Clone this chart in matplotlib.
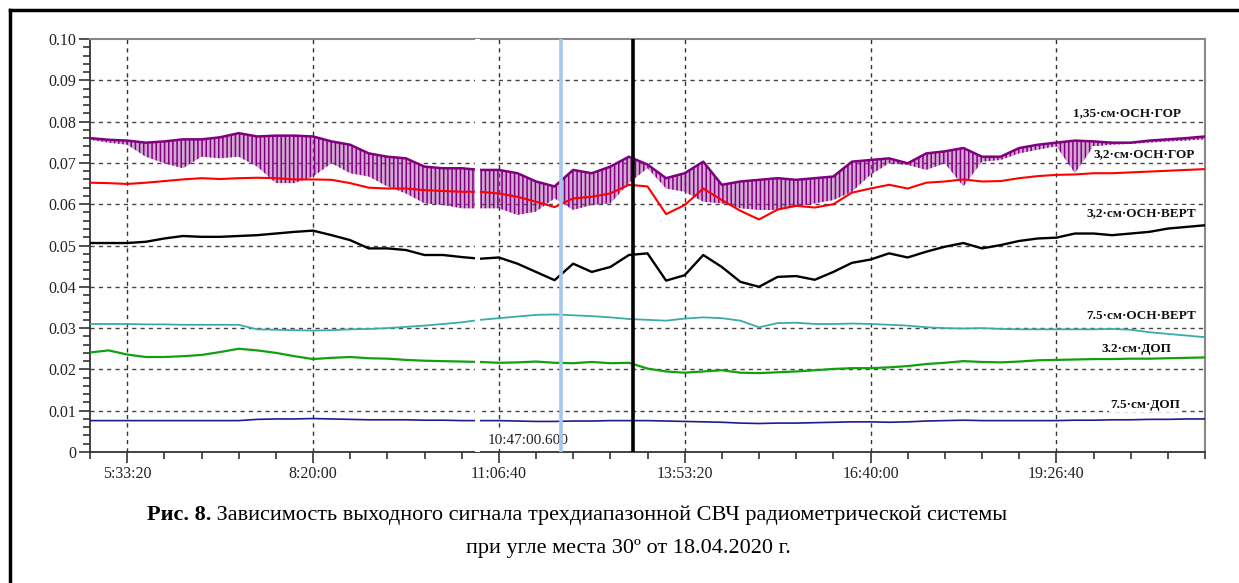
import matplotlib
matplotlib.use("Agg")
import matplotlib.pyplot as plt
import numpy as np
from matplotlib.ticker import FixedLocator, MultipleLocator, FuncFormatter
from matplotlib.lines import Line2D

# ---------------- data (values in units of 1e-3) ----------------
time_s = np.arange(18000, 78001, 1000)  # sample times, seconds of day (5:00:00 .. 21:40:00)

purple_hi = [76.0, 75.6, 75.4, 74.9, 75.2, 75.7, 75.7, 76.2, 77.2, 76.4,
             76.6, 76.6, 76.4, 75.2, 74.4, 72.3, 71.5, 71.1, 69.1, 68.7,
             68.7, 68.3, 68.3, 67.5, 65.5, 64.3, 68.3, 67.5, 69.1, 71.5,
             69.6, 66.3, 67.5, 70.3, 64.7, 65.5, 65.9, 66.3, 65.9, 66.3,
             66.7, 70.3, 70.7, 71.1, 69.9, 72.3, 72.8, 73.6, 71.5, 71.5,
             73.6, 74.4, 74.9, 75.4, 75.2, 74.9, 74.9, 75.4, 75.7, 76.0, 76.4]
purple_lo = [75.6, 74.9, 74.4, 71.5, 69.9, 68.7, 71.5, 71.1, 71.5, 69.1,
             65.1, 65.1, 66.7, 69.9, 67.5, 66.7, 64.3, 62.6, 60.2, 59.8,
             59.0, 59.0, 59.0, 57.4, 58.2, 61.4, 58.6, 59.8, 60.2, 65.1,
             68.7, 63.8, 63.0, 60.6, 60.2, 59.0, 58.6, 58.6, 59.4, 60.2,
             61.0, 63.0, 67.1, 69.9, 69.5, 68.3, 69.9, 64.3, 70.3, 70.7,
             72.3, 73.2, 74.0, 67.5, 74.0, 74.4, 74.6, 74.9, 75.2, 75.4, 75.7]
red = [65.2, 65.1, 64.9, 65.2, 65.6, 66.0, 66.3, 66.1, 66.3, 66.4,
       66.3, 66.0, 66.0, 65.9, 65.1, 64.0, 63.8, 63.8, 63.4, 63.2,
       63.0, 63.0, 62.6, 61.8, 60.6, 59.3, 61.4, 61.8, 62.6, 64.7,
       64.3, 57.6, 59.8, 63.8, 61.0, 58.4, 56.3, 58.7, 59.6, 59.2,
       60.0, 62.8, 63.8, 64.7, 63.8, 65.2, 65.5, 66.0, 65.5, 65.6,
       66.3, 66.8, 67.1, 67.2, 67.5, 67.5, 67.7, 67.9, 68.1, 68.3, 68.5]
black = [50.6, 50.6, 50.6, 50.9, 51.7, 52.3, 52.1, 52.1, 52.3, 52.5,
         52.9, 53.3, 53.6, 52.5, 51.3, 49.3, 49.3, 48.9, 47.7, 47.7,
         47.2, 46.8, 47.1, 45.6, 43.6, 41.6, 45.6, 43.6, 44.8, 47.7,
         48.1, 41.5, 42.8, 47.7, 44.8, 41.2, 40.0, 42.4, 42.6, 41.7,
         43.6, 45.8, 46.6, 48.1, 47.1, 48.5, 49.7, 50.6, 49.3, 50.1,
         51.1, 51.7, 51.9, 52.9, 52.9, 52.5, 52.9, 53.3, 54.1, 54.5, 54.9]
cyan = [31.0, 31.0, 31.0, 30.9, 30.9, 30.8, 30.8, 30.8, 30.8, 29.7,
        29.6, 29.5, 29.4, 29.5, 29.7, 29.8, 30.0, 30.3, 30.6, 31.0,
        31.4, 32.0, 32.4, 32.8, 33.2, 33.3, 33.1, 32.9, 32.6, 32.2,
        32.0, 31.8, 32.3, 32.6, 32.4, 31.8, 30.2, 31.2, 31.3, 31.0,
        31.0, 31.1, 31.0, 30.8, 30.6, 30.2, 30.0, 29.9, 30.0, 29.8,
        29.7, 29.7, 29.7, 29.7, 29.7, 29.8, 29.6, 29.0, 28.6, 28.2, 27.8]
green = [24.1, 24.6, 23.6, 23.0, 23.0, 23.2, 23.5, 24.2, 25.0, 24.6,
         24.0, 23.2, 22.5, 22.8, 23.0, 22.7, 22.6, 22.3, 22.1, 22.0,
         21.9, 21.8, 21.6, 21.7, 21.9, 21.6, 21.5, 21.8, 21.5, 21.6,
         20.2, 19.5, 19.2, 19.5, 19.8, 19.2, 19.1, 19.3, 19.5, 19.8,
         20.1, 20.3, 20.3, 20.5, 20.8, 21.3, 21.6, 22.0, 21.8, 21.7,
         21.9, 22.2, 22.3, 22.4, 22.5, 22.5, 22.6, 22.6, 22.7, 22.8, 22.9]
blue = [7.6, 7.6, 7.6, 7.6, 7.6, 7.6, 7.6, 7.6, 7.6, 7.9,
        8.0, 8.0, 8.1, 8.0, 7.9, 7.8, 7.8, 7.8, 7.7, 7.7,
        7.6, 7.6, 7.6, 7.5, 7.4, 7.4, 7.5, 7.5, 7.6, 7.6,
        7.6, 7.5, 7.4, 7.3, 7.2, 7.0, 6.9, 7.0, 7.0, 7.1,
        7.2, 7.3, 7.3, 7.2, 7.3, 7.5, 7.6, 7.7, 7.6, 7.6,
        7.6, 7.6, 7.6, 7.7, 7.7, 7.8, 7.8, 7.9, 7.9, 8.0, 8.0]

series_labels = ["1,35·см·ОСН·ГОР", "3,2·см·ОСН·ГОР", "3,2·см·ОСН·ВЕРТ",
                 "7.5·см·ОСН·ВЕРТ", "3.2·см·ДОП", "7.5·см·ДОП"]
x_ticks_s = [20000, 30000, 40000, 50000, 60000, 70000]
y_ticks = [0.0, 0.01, 0.02, 0.03, 0.04, 0.05, 0.06, 0.07, 0.08, 0.09, 0.10]
cursor_label = "10:47:00.600"
cursor_blue_s = 43345
cursor_black_s = 47220
caption_bold = "Рис. 8."
caption_1 = " Зависимость выходного сигнала трехдиапазонной СВЧ радиометрической системы"
caption_2 = "при угле места 30º от 18.04.2020 г."

# ---------------- figure ----------------
SERIF = ["Liberation Serif", "DejaVu Serif"]
plt.rcParams["font.family"] = SERIF
plt.rcParams["hatch.linewidth"] = 1.1

W, H = 1239, 583
fig = plt.figure(figsize=(W / 100, H / 100), dpi=100)
ax = fig.add_axes([90 / W, 1 - 452 / H, (1205 - 90) / W, (452 - 39) / H])

sc = 1e-3
ph = np.array(purple_hi) * sc
pl = np.array(purple_lo) * sc
c_purple = "#800080"
ax.fill_between(time_s, pl, ph, facecolor=(0.62, 0.25, 0.62, 0.45), edgecolor=c_purple,
                hatch="||||", lw=0, zorder=3)
ax.plot(time_s, ph, color=c_purple, lw=1.8, zorder=3)
ax.plot(time_s, np.array(red) * sc, color="#FF0000", lw=1.5, zorder=4)
ax.plot(time_s, np.array(black) * sc, color="black", lw=1.7, zorder=4)
ax.plot(time_s, np.array(cyan) * sc, color="#3AABA8", lw=1.3, zorder=4)
ax.plot(time_s, np.array(green) * sc, color="#10A010", lw=1.6, zorder=4)
ax.plot(time_s, np.array(blue) * sc, color="#1C1C8C", lw=1.2, zorder=4)

ax.set_xlim(18000, 78000)
ax.set_ylim(0, 0.10)

# grid
for y in y_ticks[1:-1]:
    ax.axhline(y, color="#444444", lw=1.0, ls=(0, (3, 3)), zorder=1)
for x in x_ticks_s:
    ax.axvline(x, color="#333333", lw=1.0, ls=(0, (3, 3)), zorder=1)

# ticks
def fmt_time(v, pos=None):
    v = int(round(v))
    return "%d:%02d:%02d" % (v // 3600, (v % 3600) // 60, v % 60)

ax.xaxis.set_major_locator(FixedLocator(x_ticks_s))
ax.xaxis.set_major_formatter(FuncFormatter(fmt_time))
ax.xaxis.set_minor_locator(MultipleLocator(2000))
ax.yaxis.set_major_locator(FixedLocator(y_ticks))
ax.yaxis.set_major_formatter(FuncFormatter(lambda v, p: "0" if abs(v) < 1e-9 else "%.2f" % v))
ax.yaxis.set_minor_locator(MultipleLocator(0.002))
ax.tick_params(axis="both", which="major", direction="out", length=8, width=1.2,
               color="#333333", labelsize=11.5, pad=2, labelcolor="#222222")
ax.tick_params(axis="both", which="minor", direction="out", length=5, width=1.2, color="#333333")

for side in ["left", "bottom"]:
    ax.spines[side].set_color("#333333")
    ax.spines[side].set_linewidth(1.3)
for side in ["top", "right"]:
    ax.spines[side].set_color("#888888")
    ax.spines[side].set_linewidth(1.5)

# stitching gap (white strip)
ax.axvspan(38700, 39000, color="white", lw=0, zorder=6)

# cursor label and cursor lines
ax.text(41569, 0.0029, cursor_label, ha="center", va="center", fontsize=11,
        color="#222222", zorder=7,
        bbox=dict(facecolor="white", edgecolor="none", pad=1.5))
ax.axvline(cursor_blue_s, color="#A6C8EE", lw=2.6, zorder=8)
ax.axvline(cursor_black_s, color="black", lw=2.6, zorder=8)

# series labels
lab_pos = [(73803, 0.0821), (74717, 0.0722), (74556, 0.0579),
           (74556, 0.0329), (74287, 0.0249), (74771, 0.0114)]
for txt, (lx, ly) in zip(series_labels, lab_pos):
    ax.text(lx, ly, txt, ha="center", va="center", fontsize=9.5, fontweight="bold",
            color="#111111", zorder=7,
            bbox=dict(facecolor="white", edgecolor="none", pad=1.0))

# outer frame
fig.add_artist(Line2D([10 / W, 1.0], [1 - 10 / H, 1 - 10 / H], color="black", lw=2.5,
                      transform=fig.transFigure))
fig.add_artist(Line2D([10 / W, 10 / W], [0, 1 - 10 / H], color="black", lw=2.5,
                      transform=fig.transFigure))

# caption
t1 = fig.text(147 / W, 1 - 515 / H, caption_bold, ha="left", va="center",
              fontsize=16, fontweight="bold", color="black")
fig.canvas.draw()
bb = t1.get_window_extent(renderer=fig.canvas.get_renderer())
fig.text(bb.x1 / W, 1 - 515 / H, caption_1, ha="left", va="center", fontsize=16, color="black")
fig.text(628 / W, 1 - 549 / H, caption_2, ha="center", va="center", fontsize=16, color="black")

fig.savefig("out.png", dpi=100)
